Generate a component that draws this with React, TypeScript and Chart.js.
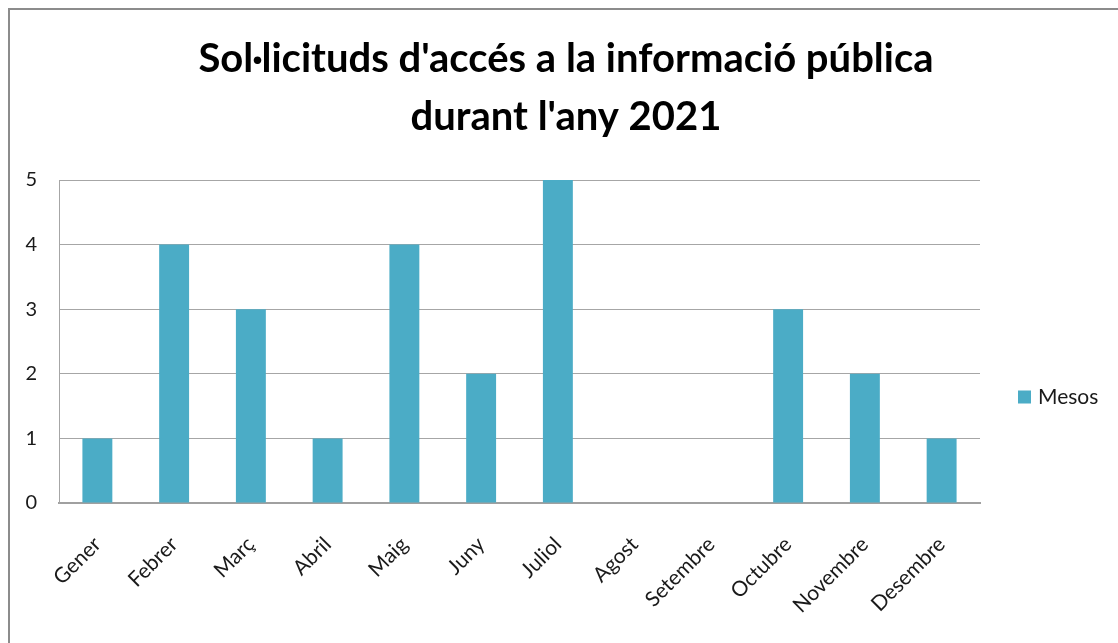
import React, { useEffect, useRef } from "react";
import { Chart, registerables } from "chart.js";

Chart.register(...registerables);

const categories = ["Gener", "Febrer", "Març", "Abril", "Maig", "Juny", "Juliol", "Agost", "Setembre", "Octubre", "Novembre", "Desembre"];
const mesos = [1, 4, 3, 1, 4, 2, 5, 0, 0, 3, 2, 1];
const yTicks = [0, 1, 2, 3, 4, 5];
const seriesLabel = "Mesos";
const titleLines = ["Sol·licituds d'accés a la informació pública", "durant l'any 2021"];

const BAR = "#4BACC6";
const FONT = "Lato, 'Noto Sans', sans-serif";

const sideLegend = {
  id: "sideLegend",
  afterDraw(chart: any) {
    const ctx = chart.ctx;
    const area = chart.chartArea;
    const ds = chart.data.datasets[0];
    const x = area.right + 38;
    const y = area.bottom - 106;
    ctx.save();
    ctx.fillStyle = ds.backgroundColor;
    ctx.fillRect(x, y - 6.5, 13, 13);
    ctx.fillStyle = "#1a1a1a";
    ctx.font = `21px ${FONT}`;
    ctx.textBaseline = "middle";
    ctx.textAlign = "left";
    ctx.fillText(ds.label, x + 20, y);
    ctx.restore();
  },
};

export default function App() {
  const ref = useRef<HTMLCanvasElement>(null);
  useEffect(() => {
    if (!ref.current) return;
    const chart = new Chart(ref.current, {
      type: "bar",
      data: {
        labels: categories,
        datasets: [
          {
            label: seriesLabel,
            data: mesos,
            backgroundColor: BAR,
            borderWidth: 0,
            barPercentage: 0.39,
            categoryPercentage: 1,
            yAxisID: "y",
          },
        ],
      },
      options: {
        responsive: false,
        animation: false,
        layout: { padding: 0 },
        plugins: {
          legend: { display: false },
          tooltip: { enabled: false },
          title: {
            display: true,
            text: titleLines,
            color: "#000",
            font: { family: FONT, size: 40, weight: "bold", lineHeight: "58px" },
            padding: { top: 20, bottom: 34 },
          },
        },
        scales: {
          x: {
            offset: true,
            grid: { display: false },
            border: { display: true, color: "#a0a0a0", width: 2 },
            ticks: {
              minRotation: 45,
              maxRotation: 45,
              autoSkip: false,
              padding: 21,
              color: "#1a1a1a",
              font: { family: FONT, size: 21 },
            },
            afterFit: (s: any) => {
              s.height = 140;
            },
          },
          y: {
            min: 0,
            max: 5,
            afterBuildTicks: (s: any) => {
              s.ticks = yTicks.map((v) => ({ value: v }));
            },
            grid: { color: "#a6a6a6", lineWidth: 1, drawTicks: false },
            border: { display: true, color: "#a6a6a6", width: 1 },
            ticks: {
              padding: 22,
              color: "#1a1a1a",
              font: { family: FONT, size: 20 },
            },
            afterFit: (s: any) => {
              s.width = 49;
            },
          },
          legendSpace: {
            type: "linear",
            position: "right",
            display: true,
            grid: { display: false, drawTicks: false },
            border: { display: false },
            ticks: { display: false },
            afterFit: (s: any) => {
              s.width = 142;
            },
          },
        },
      },
      plugins: [sideLegend],
    });
    return () => chart.destroy();
  }, []);

  return (
    <div style={{ position: "absolute", left: 0, top: 0, width: 1118, height: 643, overflow: "hidden", background: "#fff" }}>
      <div style={{ position: "absolute", left: 8, top: 8, width: 1112, height: 640, borderTop: "2px solid #8c8c8c", borderLeft: "2px solid #8c8c8c" }}>
        <canvas ref={ref} width={1112} height={633} style={{ display: "block", width: 1112, height: 633 }} />
      </div>
    </div>
  );
}
